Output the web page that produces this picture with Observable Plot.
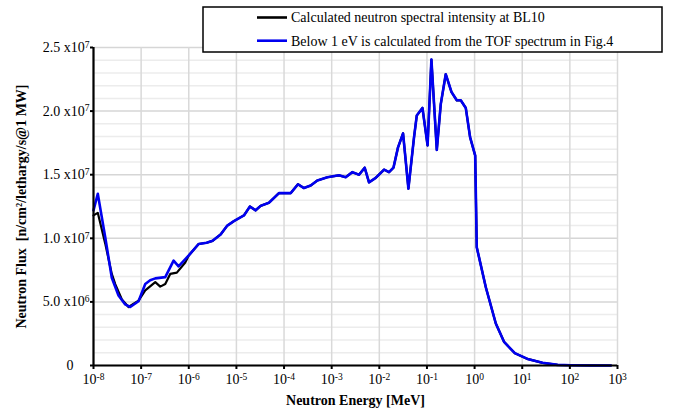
<!DOCTYPE html>
<html><head><meta charset="utf-8">
<script src="https://cdn.jsdelivr.net/npm/d3@7"></script>
<script src="https://cdn.jsdelivr.net/npm/@observablehq/plot@0.6"></script>
<style>
body{margin:0;background:#fff;}
svg{display:block;}
</style>
</head><body><div id="chart"></div>
<script>
// Flux in units of 10^6 n/cm2/lethargy/s@1MW, energy in MeV
const energyLowCalc = [1.00e-8, 1.23e-8, 1.76e-8, 2.42e-8, 2.86e-8, 3.94e-8, 5.43e-8, 8.81e-8, 1.22e-7, 1.98e-7, 2.52e-7, 3.21e-7, 4.08e-7, 5.62e-7, 8.43e-7];
const fluxLowCalc   = [11.8, 12.0, 9.6, 7.2, 6.4, 5.2, 4.6, 5.1, 5.9, 6.55, 6.2, 6.4, 7.2, 7.3, 8.1];

const energyLowTof = [1.00e-8, 1.23e-8, 1.76e-8, 2.42e-8, 3.35e-8, 4.63e-8, 5.90e-8, 8.81e-8, 1.22e-7, 1.55e-7, 1.98e-7, 3.21e-7, 4.80e-7, 6.11e-7];
const fluxLowTof   = [12.2, 13.5, 10.1, 6.9, 5.5, 4.8, 4.6, 5.05, 6.4, 6.7, 6.85, 6.95, 8.25, 7.8];

const energyHigh = [1.0e-6, 1.61e-6, 2.37e-6, 3.16e-6, 4.66e-6, 6.44e-6, 8.85e-6, 1.44e-5, 1.92e-5, 2.53e-5, 3.22e-5, 4.82e-5, 7.82e-5,
  1.38e-4, 1.96e-4, 2.62e-4, 3.62e-4, 5.01e-4, 8.13e-4, 1.42e-3, 1.97e-3, 2.72e-3, 3.75e-3, 4.93e-3, 6.08e-3, 8.39e-3,
  1.26e-2, 1.60e-2, 1.98e-2, 2.47e-2, 3.15e-2, 4.08e-2, 5.36e-2, 6.11e-2, 8.04e-2, 1.03e-1, 1.24e-1, 1.61e-1, 1.95e-1,
  2.48e-1, 3.27e-1, 4.23e-1, 5.13e-1, 6.53e-1, 8.04e-1, 1.03, 1.11, 1.72, 2.79, 4.17, 7.00, 12.9, 26.7, 55.2, 105, 276, 726];
const fluxHigh = [8.65, 9.55, 9.65, 9.8, 10.3, 11.0, 11.35, 11.8, 12.5, 12.2, 12.55, 12.8, 13.55,
  13.55, 14.25, 13.95, 14.15, 14.55, 14.8, 14.95, 14.8, 15.2, 15.0, 15.55, 14.4, 14.75,
  15.4, 15.2, 15.55, 17.15, 18.25, 13.9, 17.95, 19.65, 20.25, 17.3, 24.05, 16.95, 20.55,
  22.9, 21.5, 20.85, 20.85, 20.25, 17.95, 16.5, 9.3, 6.15, 3.3, 1.85, 0.97, 0.52, 0.21, 0.05, 0.02, 0.005, 0.0];

const xTicks = [1e-8, 1e-7, 1e-6, 1e-5, 1e-4, 1e-3, 1e-2, 1e-1, 1e0, 1e1, 1e2, 1e3];
const xTickLabels = ["10^-8","10^-7","10^-6","10^-5","10^-4","10^-3","10^-2","10^-1","10^0","10^1","10^2","10^3"];
const yTicks = [0, 5, 10, 15, 20, 25];
const yTickLabels = ["0", "5.0 x10^6", "1.0 x10^7", "1.5 x10^7", "2.0 x10^7", "2.5 x10^7"];
const yMinorTicks = [1,2,3,4,6,7,8,9,11,12,13,14,16,17,18,19,21,22,23,24];

const seriesNames = ["Calculated neutron spectral intensity at BL10", "Below 1 eV is calculated from the TOF spectrum in Fig.4"];
const seriesColors = ["#000000", "#0000f0"];
const xLabel = "Neutron Energy [MeV]";
const yLabel = "Neutron Flux\u2002[n/cm\u00b2/lethargy/s@1 MW]";

const calcData = energyLowCalc.map((e, i) => ({e, f: fluxLowCalc[i]}))
  .concat(energyHigh.map((e, i) => ({e, f: fluxHigh[i]})));
const tofData = energyLowTof.map((e, i) => ({e, f: fluxLowTof[i]}))
  .concat(energyHigh.map((e, i) => ({e, f: fluxHigh[i]})));

const chart = Plot.plot({
  width: 677, height: 418,
  marginLeft: 93, marginRight: 60, marginTop: 47, marginBottom: 53,
  style: {fontFamily: "'Liberation Serif','Times New Roman',serif", fontSize: "14px", color: "#000", background: "#fff"},
  x: {type: "log", domain: [1e-8, 1e3]},
  y: {domain: [0, 25]},
  marks: [
    Plot.ruleY(yMinorTicks, {stroke: "#ececec", strokeWidth: 1.5}),
    Plot.ruleY(yTicks, {stroke: "#d6d6d6", strokeWidth: 1.5}),
    Plot.ruleX(xTicks, {stroke: "#d9d9d9", strokeWidth: 1.5}),
    Plot.line(calcData, {x: "e", y: "f", stroke: seriesColors[0], strokeWidth: 2.2}),
    Plot.line(tofData, {x: "e", y: "f", stroke: seriesColors[1], strokeWidth: 2.6}),
    Plot.axisX({ticks: xTicks, tickFormat: d => xTickLabels[xTicks.indexOf(d)], tickSize: 4, tickPadding: 5, strokeWidth: 2, label: null}),
    Plot.axisY({ticks: yTicks, tickFormat: d => yTickLabels[yTicks.indexOf(d)], tickSize: 3, tickPadding: 1, strokeWidth: 2, label: null}),
    Plot.ruleY([0], {stroke: "#000", strokeWidth: 2.2}),
    Plot.ruleX([1e-8], {stroke: "#000", strokeWidth: 2.2}),
    Plot.text([xLabel], {frameAnchor: "bottom", dy: 39, fontWeight: "bold", fontSize: 14}),
    Plot.text([yLabel], {frameAnchor: "left", textAnchor: "middle", dx: -72, rotate: -90, fontWeight: "bold", fontSize: 14})
  ]
});

document.getElementById("chart").appendChild(chart);

const svg = d3.select(chart);
// superscripts for exponents
svg.selectAll("text").each(function() {
  const t = this.textContent;
  if (t.includes("^")) {
    const [a, b] = t.split("^");
    const s = d3.select(this);
    s.text(null);
    s.append("tspan").text(a);
    s.append("tspan").attr("dy", "-0.45em").attr("font-size", "0.68em").text(b);
  }
});
// zero label alignment as in reference
svg.selectAll('g[aria-label="y-axis tick label"] text').each(function() {
  if (this.textContent === "0") {
    const tr = this.getAttribute("transform") || "";
    this.setAttribute("transform", tr + " translate(-16,0)");
  }
});

// legend box
const lg = svg.append("g").attr("text-anchor", "start");
lg.append("rect").attr("x", 203).attr("y", 7).attr("width", 459).attr("height", 45)
  .attr("fill", "#fff").attr("stroke", "#000").attr("stroke-width", 1.5);
seriesNames.forEach((name, i) => {
  const y = 17.5 + i * 23.2;
  lg.append("line").attr("x1", 257).attr("x2", 287).attr("y1", y).attr("y2", y)
    .attr("stroke", seriesColors[i]).attr("stroke-width", 2.6);
  lg.append("text").attr("x", 291).attr("y", y).attr("dy", "0.35em")
    .attr("text-anchor", "start")
    .attr("font-family", "'Liberation Serif','Times New Roman',serif").attr("font-size", 14)
    .attr("fill", "#000").text(name);
});
</script>
</body></html>
